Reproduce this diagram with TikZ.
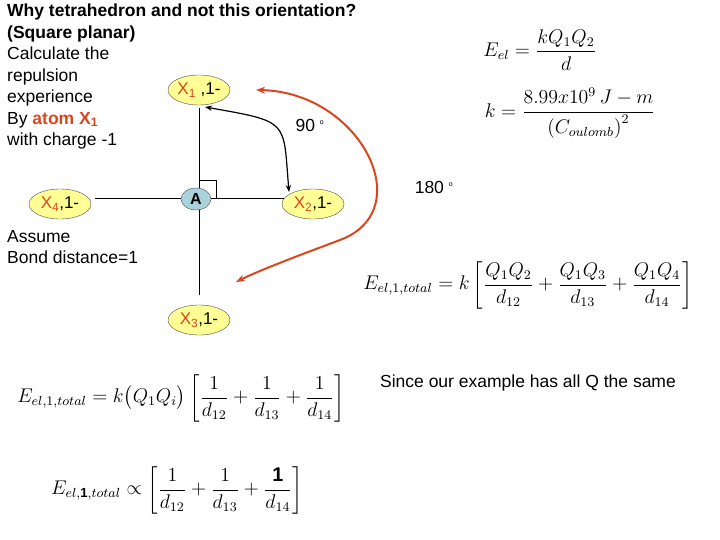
\documentclass[tikz,border=0pt]{standalone}
\usepackage{fontspec}
\setmainfont{Liberation Sans}
\usepackage{amsmath}
\usetikzlibrary{shapes.geometric,arrows.meta}
\definecolor{xred}{RGB}{220,70,30}
\definecolor{xyel}{RGB}{255,255,150}
\definecolor{ablue}{RGB}{170,210,220}
\tikzset{atom/.style={ellipse,draw=black!70,fill=xyel,minimum width=62pt,minimum height=30pt,inner sep=0pt,font=\fontsize{17}{18}\selectfont},
lbl/.style={font=\fontsize{17.5}{21.5}\selectfont,align=left,inner sep=0pt},
eq/.style={inner sep=0pt,font=\large,scale=1.65}}
\newcommand{\xa}[1]{\textcolor{xred}{X\textsubscript{#1}}}
\begin{document}
\begin{tikzpicture}[x=1pt,y=-1pt]
\useasboundingbox (0,0) rectangle (720,540);
\node[lbl,anchor=north west] (t) at (7,4) {\bfseries Why tetrahedron and not this orientation?\\\bfseries (Square planar)\\Calculate the\\repulsion\\experience\\By \textcolor{xred}{\bfseries atom X\textsubscript{1}}\\with charge -1};
\coordinate (vt) at (199,108); \coordinate (vb) at (199,295);
\coordinate (hl) at (95,198); \coordinate (hr) at (285,198);
\draw (vt) -- (vb); \draw (hl) -- (hr);
\draw (199,180) -- (216,180) -- (216,198);
\node[atom] (x1) at (199,90) {\xa{1} ,1-};
\node[atom] (x4) at (60,204) {\xa{4},1-};
\node[atom] (x2) at (313,204) {\xa{2},1-};
\node[atom] (x3) at (199,320) {\xa{3},1-};
\node[ellipse,draw=black!70,fill=ablue,minimum width=30pt,minimum height=22pt,inner sep=0pt,font=\bfseries\fontsize{16}{18}\selectfont] (a) at (196,199) {A};
\coordinate (b1) at (205,107); \coordinate (b2) at (289,192);
\draw[line width=1.2pt,{Stealth[length=7pt]}-{Stealth[length=7pt]}] (b1) .. controls (290,122) and (283,120) .. (b2);
\coordinate (r1) at (256,90); \coordinate (r2) at (236,282);
\draw[xred,line width=2pt,{Stealth[length=9pt]}-{Stealth[length=9pt]}] (r1) .. controls (360,92) and (420,210) .. (340,240) .. controls (300,255) and (260,270) .. (r2);
\node[lbl] (n90) at (310,125) {90 \textsuperscript{\scriptsize o}};
\node[lbl] (n180) at (434,187) {180 \textsuperscript{\scriptsize o}};
\node[lbl,anchor=north west] (as) at (7,230) {Assume\\Bond distance=1};
\node[eq] (e1) at (540,50) {$E_{el}=\dfrac{kQ_1Q_2}{d}$};
\node[eq] (e2) at (570,113) {$k=\dfrac{8.99x10^9\,J-m}{\left(C_{oulomb}\right)^2}$};
\node[eq] (e3) at (528,285) {$E_{el,1,total}=k\left[\dfrac{Q_1Q_2}{d_{12}}+\dfrac{Q_1Q_3}{d_{13}}+\dfrac{Q_1Q_4}{d_{14}}\right]$};
\node[lbl] (s) at (528,383) {Since our example has all Q the same};
\node[eq] (e4) at (181,398) {$E_{el,1,total}=k\bigl(Q_1Q_i\bigr)\left[\dfrac{1}{d_{12}}+\dfrac{1}{d_{13}}+\dfrac{1}{d_{14}}\right]$};
\node[eq] (e5) at (177,490) {$E_{el,\mathbf{1},total}\propto\left[\dfrac{1}{d_{12}}+\dfrac{1}{d_{13}}+\dfrac{\mathbf{1}}{d_{14}}\right]$};
\end{tikzpicture}
\end{document}
